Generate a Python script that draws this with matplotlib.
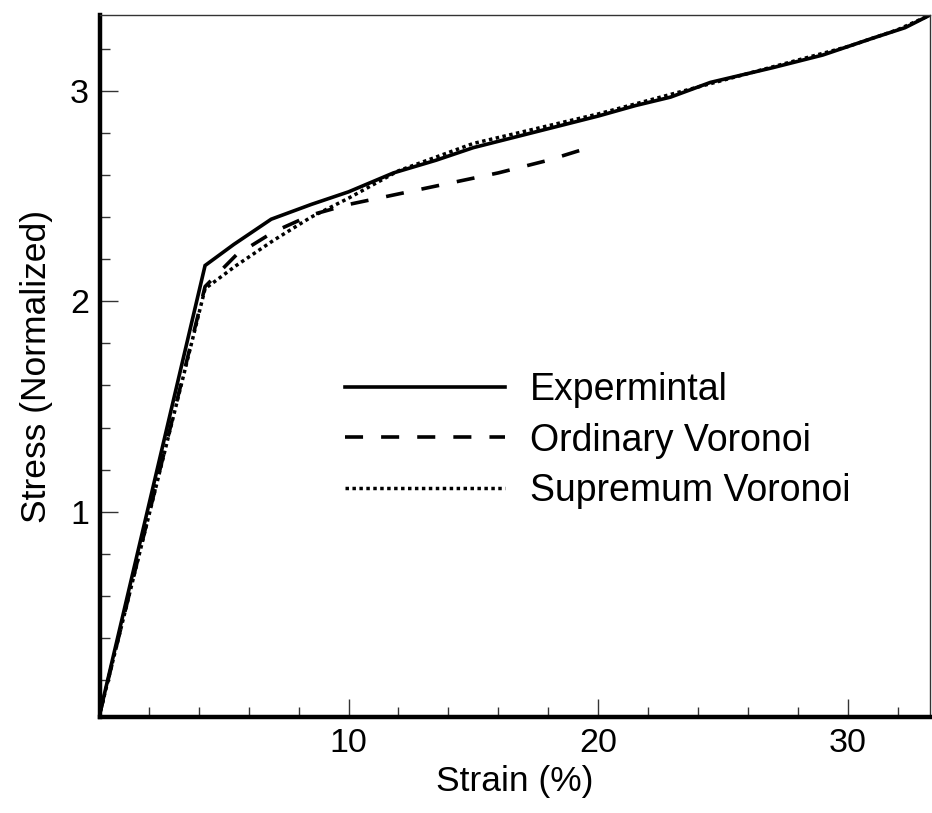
import matplotlib
matplotlib.use("Agg")
import matplotlib.pyplot as plt
from matplotlib.ticker import MultipleLocator

plt.rcParams['font.family'] = ['Liberation Sans', 'DejaVu Sans']

# Data (strain %, normalized stress)
exp_x = [0.0, 4.25, 5.4, 6.9, 8.5, 10.0, 11.8, 13.5, 15.0, 17.0, 20.0, 21.5, 22.9, 24.5, 27.0, 29.0, 31.0, 32.3, 33.3]
exp_y = [0.025, 2.17, 2.27, 2.39, 2.46, 2.52, 2.61, 2.67, 2.73, 2.79, 2.88, 2.93, 2.97, 3.04, 3.11, 3.17, 3.25, 3.30, 3.36]

ord_x = [0.0, 4.25, 5.5, 7.0, 8.5, 10.0, 12.0, 14.0, 16.0, 18.0, 19.9]
ord_y = [0.025, 2.07, 2.22, 2.33, 2.41, 2.46, 2.51, 2.56, 2.61, 2.67, 2.74]

sup_x = [0.0, 4.25, 5.5, 7.0, 8.5, 10.0, 12.0, 15.0, 17.5, 20.0, 22.5, 25.0, 27.5, 30.0, 32.0, 33.3]
sup_y = [0.025, 2.06, 2.17, 2.29, 2.40, 2.49, 2.62, 2.75, 2.82, 2.89, 2.97, 3.05, 3.13, 3.21, 3.29, 3.36]

labels = ['Expermintal', 'Ordinary Voronoi', 'Supremum Voronoi']

fig = plt.figure(figsize=(9.32, 8.13), dpi=100)
ax = fig.add_axes([0.1073, 0.1181, 0.8906, 0.8634])

ax.plot(exp_x, exp_y, color='black', lw=2.6, solid_joinstyle='miter', label=labels[0])
ax.plot(ord_x, ord_y, color='black', lw=2.6, linestyle=(0, (5, 5)), label=labels[1])
ax.plot(sup_x, sup_y, color='black', lw=2.5, linestyle=(0, (1, 1)), label=labels[2])

ax.set_xlim(0.04, 33.3)
ax.set_ylim(0.025, 3.36)

ax.xaxis.set_major_locator(MultipleLocator(10))
ax.xaxis.set_minor_locator(MultipleLocator(2))
ax.yaxis.set_major_locator(MultipleLocator(1))
ax.yaxis.set_minor_locator(MultipleLocator(0.2))

ax.tick_params(which='both', direction='in', top=False, right=False, labelsize=24.5, width=1.0, color='#333333')
ax.tick_params(which='major', length=13, pad=8)
ax.tick_params(which='minor', length=7)

for s in ['left', 'bottom']:
    ax.spines[s].set_linewidth(3.2)
for s in ['top', 'right']:
    ax.spines[s].set_linewidth(1.0)
    ax.spines[s].set_color('#333333')

ax.set_xlabel('Strain (%)', fontsize=25.5, labelpad=4)
ax.set_ylabel('Stress (Normalized)', fontsize=25.5, labelpad=12)

ax.legend(loc='upper left', bbox_to_anchor=(0.295, 0.491), frameon=False, fontsize=27,
          handlelength=4.27, handletextpad=0.67, labelspacing=0.38, borderaxespad=0, borderpad=0)

fig.savefig('out.png', dpi=100)
